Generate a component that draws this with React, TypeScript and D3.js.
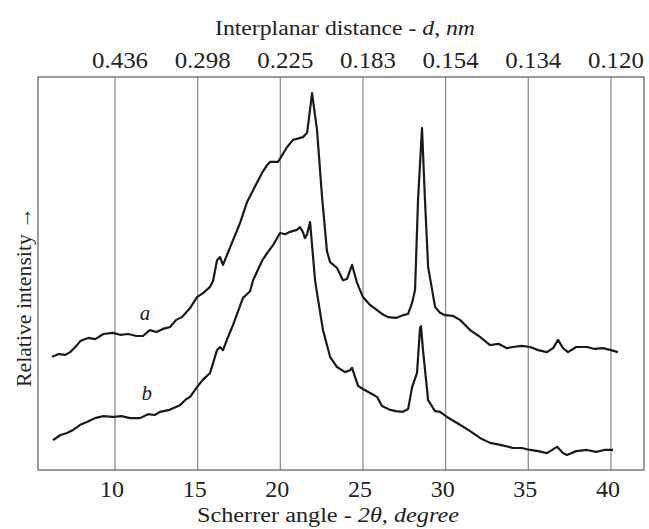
import * as d3 from "d3";
import { useEffect, useRef } from "react";

// scanned diffraction trace
const angleA = [6.19, 6.6, 7.0, 7.28, 7.6, 7.9, 8.37, 8.8, 9.3, 9.88, 10.3, 10.8, 11.3, 11.69, 12.1, 12.5, 12.9, 13.33, 13.7, 14.05, 14.54, 14.96, 15.32, 15.75, 15.93, 16.17, 16.35, 16.53, 17.14, 17.56, 17.99, 18.35, 18.89, 19.2, 19.38, 19.86, 20.41, 20.77, 21.37, 21.62, 21.92, 22.22, 22.52, 22.82, 23.01, 23.43, 23.79, 24.03, 24.34, 24.64, 25.0, 25.43, 25.85, 26.15, 26.52, 27.0, 27.42, 27.73, 27.97, 28.15, 28.33, 28.57, 28.75, 28.94, 29.36, 29.66, 29.96, 30.45, 30.87, 31.48, 32.0, 32.69, 33.2, 33.7, 34.08, 34.6, 35.11, 35.6, 36.13, 36.5, 36.8, 37.1, 37.4, 37.9, 38.55, 39.0, 39.52, 40.0, 40.43];
const intensityA = [28.8, 29.5, 29.3, 30.0, 31.3, 32.8, 33.6, 33.3, 34.6, 34.9, 34.4, 34.6, 34.1, 34.1, 35.6, 35.1, 35.9, 36.4, 38.2, 38.9, 41.2, 44.0, 45.0, 46.6, 48.1, 53.4, 54.2, 52.2, 58.5, 62.8, 68.2, 71.2, 75.6, 77.6, 78.4, 78.4, 82.2, 84.0, 84.7, 85.8, 95.9, 86.5, 69.7, 55.7, 52.9, 51.4, 48.3, 48.6, 52.2, 47.6, 44.0, 42.0, 40.7, 39.7, 38.9, 38.7, 39.4, 39.7, 42.5, 45.8, 68.7, 87.0, 68.7, 51.7, 41.5, 40.0, 39.4, 39.2, 38.2, 35.6, 34.1, 31.8, 32.1, 31.0, 31.3, 31.6, 31.3, 30.5, 30.0, 31.0, 33.1, 31.0, 30.0, 31.3, 31.3, 30.8, 31.0, 30.5, 30.0];

const angleB = [6.25, 6.7, 7.1, 7.46, 7.9, 8.3, 8.79, 9.3, 9.88, 10.4, 10.9, 11.51, 12.0, 12.4, 12.72, 13.3, 13.93, 14.3, 14.54, 14.96, 15.32, 15.75, 16.17, 16.35, 16.53, 16.8, 17.14, 17.74, 18.17, 18.35, 18.89, 19.2, 19.6, 19.98, 20.3, 20.59, 21.0, 21.19, 21.37, 21.49, 21.62, 21.8, 22.1, 22.22, 22.58, 23.01, 23.43, 23.91, 24.22, 24.34, 24.7, 25.0, 25.43, 25.85, 26.15, 26.64, 27.0, 27.42, 27.73, 27.97, 28.27, 28.45, 28.51, 28.63, 28.94, 29.36, 29.66, 30.08, 30.87, 31.48, 32.1, 32.69, 33.3, 34.08, 34.6, 35.11, 35.6, 36.13, 36.74, 37.1, 37.34, 37.9, 38.55, 39.1, 39.6, 40.13];
const intensityB = [7.6, 8.9, 9.4, 10.2, 11.5, 12.2, 13.2, 13.7, 13.5, 13.7, 13.2, 13.2, 14.2, 14.0, 14.8, 15.3, 16.5, 18.0, 18.6, 21.1, 23.0, 24.7, 30.5, 31.3, 30.5, 33.5, 36.9, 43.8, 45.5, 48.3, 53.2, 55.2, 57.5, 60.3, 60.0, 60.6, 61.1, 61.8, 60.5, 59.0, 60.0, 63.1, 48.3, 45.0, 35.6, 28.8, 26.2, 24.9, 25.4, 26.0, 21.4, 20.6, 19.6, 18.6, 16.3, 15.3, 15.0, 14.8, 15.5, 21.1, 24.7, 36.1, 36.6, 30.5, 17.8, 15.0, 14.8, 13.5, 11.5, 9.9, 8.1, 6.9, 6.4, 5.6, 5.6, 5.1, 4.8, 4.3, 5.9, 4.3, 3.8, 4.8, 5.1, 4.6, 5.1, 5.1];

const angleTicks = [10, 15, 20, 25, 30, 35, 40];
const dLabels = ["0.436", "0.298", "0.225", "0.183", "0.154", "0.134", "0.120"];

const W = 649;
const H = 529;
const serif = "'Liberation Serif', 'DejaVu Serif', serif";

export default function App() {
  const ref = useRef<SVGSVGElement>(null);

  useEffect(() => {
    const svg = d3.select(ref.current);
    svg.selectAll("*").remove();

    const x = d3.scaleLinear().domain([5.34, 42.0]).range([38, 644]);
    const y = d3.scaleLinear().domain([0, 100]).range([470, 77]);

    // grid lines
    svg
      .append("g")
      .selectAll("line")
      .data(angleTicks)
      .join("line")
      .attr("x1", (d) => x(d))
      .attr("x2", (d) => x(d))
      .attr("y1", y(100))
      .attr("y2", y(0))
      .attr("stroke", "#8c8c8c")
      .attr("stroke-width", 1.3);

    // frame
    svg
      .append("rect")
      .attr("x", x(5.34))
      .attr("y", y(100))
      .attr("width", x(42) - x(5.34))
      .attr("height", y(0) - y(100))
      .attr("fill", "none")
      .attr("stroke", "#7a7a7a")
      .attr("stroke-width", 1.5);

    const line = d3
      .line<[number, number]>()
      .x((d) => x(d[0]))
      .y((d) => y(d[1]));

    const series = [
      d3.zip(angleA, intensityA) as [number, number][],
      d3.zip(angleB, intensityB) as [number, number][],
    ];
    svg
      .append("g")
      .selectAll("path")
      .data(series)
      .join("path")
      .attr("d", (d) => line(d))
      .attr("fill", "none")
      .attr("stroke", "#1a1a1a")
      .attr("stroke-width", 2.2)
      .attr("stroke-linejoin", "round");

    // curve labels
    svg
      .append("text")
      .attr("x", x(11.5))
      .attr("y", y(38.2))
      .attr("font-style", "italic")
      .text("a");
    svg
      .append("text")
      .attr("x", x(11.6))
      .attr("y", y(17.8))
      .attr("font-style", "italic")
      .text("b");

    // bottom tick labels
    svg
      .append("g")
      .selectAll("text")
      .data(angleTicks)
      .join("text")
      .attr("x", (d) => x(d) - 3)
      .attr("y", 497)
      .attr("text-anchor", "middle")
      .attr("font-size", 24)
      .text((d) => d);

    // top tick labels
    svg
      .append("g")
      .selectAll("text")
      .data(angleTicks)
      .join("text")
      .attr("x", (d) => x(d) + 5)
      .attr("y", 68)
      .attr("text-anchor", "middle")
      .attr("font-size", 24)
      .attr("textLength", 56)
      .attr("lengthAdjust", "spacingAndGlyphs")
      .text((d, i) => dLabels[i]);

    const top = svg
      .append("text")
      .attr("x", 345)
      .attr("y", 35)
      .attr("text-anchor", "middle")
      .attr("font-size", 20)
      .attr("textLength", 260)
      .attr("lengthAdjust", "spacingAndGlyphs");
    top.append("tspan").text("Interplanar distance - ");
    top.append("tspan").attr("font-style", "italic").text("d");
    top.append("tspan").text(", ");
    top.append("tspan").attr("font-style", "italic").text("nm");

    const bottom = svg
      .append("text")
      .attr("x", 328)
      .attr("y", 522)
      .attr("text-anchor", "middle")
      .attr("font-size", 20)
      .attr("textLength", 262)
      .attr("lengthAdjust", "spacingAndGlyphs");
    bottom.append("tspan").text("Scherrer angle - ");
    bottom.append("tspan").attr("font-style", "italic").text("2θ, degree");

    svg
      .append("text")
      .attr("transform", "translate(31,297) rotate(-90)")
      .attr("text-anchor", "middle")
      .attr("font-size", 21)
      .attr("textLength", 180)
      .attr("lengthAdjust", "spacingAndGlyphs")
      .text("Relative intensity →");
  }, []);

  return (
    <svg
      ref={ref}
      width={W}
      height={H}
      fontFamily={serif}
      fontSize={21}
      fill="#222"
      style={{ position: "absolute", left: 0, top: 0, background: "#fff" }}
    />
  );
}
